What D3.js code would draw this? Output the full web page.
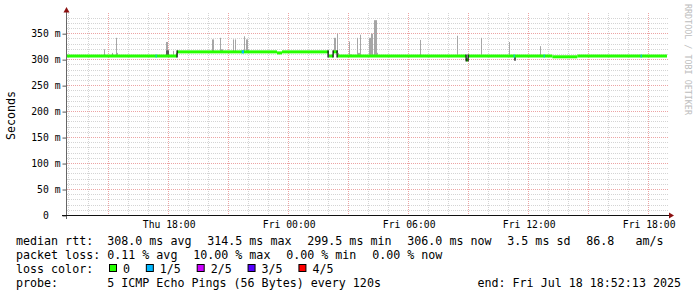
<!DOCTYPE html>
<html>
<head>
<meta charset="utf-8">
<script src="https://cdn.jsdelivr.net/npm/d3@7"></script>
<style>
  body { margin: 0; background: #fff; }
  text { font-family: "DejaVu Sans Mono", monospace; white-space: pre; }
  .leg { font-size: 11.66px; fill: #000; }
  .tick text { font-size: 9.72px; fill: #000; }
</style>
</head>
<body>
<svg id="chart" width="697" height="297"></svg>
<script>
// ---- data ----
const startTime = "17 12:55"
const endTime = "18 18:55"

// median rtt in ms, each value holds until the next time
const medianTimes = ["17 12:55", "17 18:25", "17 23:25", "17 23:40", "18 02:00", "18 02:13",
  "18 02:26", "18 08:52", "18 08:58", "18 13:11", "18 14:26"]
const medianValues = [307, 315, 313, 315, 307, 315, 307, 299.5, 307, 305.5, 307]

// smoke: spread of the 5 pings (lo..mid dark, mid..hi light)
const smokeTimes = ["17 14:47", "17 15:11", "17 15:23", "17 15:25", "17 17:52", "17 17:55", "17 18:14",
  "17 18:22", "17 20:10", "17 20:13", "17 20:35", "17 20:38", "17 20:41", "17 21:16", "17 21:19",
  "17 21:46", "17 21:52", "17 21:55", "17 21:58", "18 02:16", "18 02:19", "18 02:25", "18 02:28",
  "18 03:01", "18 03:04", "18 03:07", "18 03:25", "18 03:28", "18 03:31", "18 03:35", "18 04:01",
  "18 04:04", "18 04:07", "18 04:10", "18 04:16", "18 04:19", "18 04:22", "18 04:25", "18 04:28",
  "18 06:35", "18 08:26", "18 09:38", "18 11:02", "18 11:16", "18 12:35", "18 12:38"]
const smokeLo = [307, 307, 307, 307, 307, 307, 307, 307, 315, 315, 315, 315, 315, 315, 315,
  315, 315, 315, 315, 315, 315, 315, 307, 307, 307, 307, 307, 307, 307, 307, 307,
  307, 307, 307, 307, 307, 307, 307, 307, 307, 307, 307, 307, 298, 307, 307]
const smokeMid = [307, 307, 307, 307, 318, 318, 307, 307, 315, 315, 315, 315, 315, 315, 315,
  315, 315, 315, 315, 315, 315, 315, 307, 307, 307, 307, 307, 307, 307, 307, 307,
  307, 307, 307, 307, 307, 307, 307, 307, 307, 307, 307, 307, 307, 307, 307]
const smokeHi = [320, 313, 342, 313, 334, 334, 317, 313, 339, 339, 342, 320, 320, 339, 339,
  345, 339, 339, 320, 342, 342, 350, 313, 335, 310, 310, 342, 313, 313, 348, 342,
  342, 350, 350, 376, 376, 376, 313, 313, 338, 346, 342, 334, 307, 326, 309]

// packet loss events (pings lost out of 5)
const lossTimes = ["17 17:21", "17 21:39", "18 11:15", "18 12:45", "18 17:36"]
const lossMinutes = [3, 7, 3, 3, 3]
const lossCounts = [1, 1, 1, 1, 1]

const lossLabels = ["0", "1/5", "2/5", "3/5", "4/5"]
const lossColors = ["#26ff00", "#00b8ff", "#cc00ff", "#5500ff", "#ff0000"]

const yTicks = [0, 50, 100, 150, 200, 250, 300, 350]

const line1Items = ["median rtt:  308.0 ms avg", "314.5 ms max", "299.5 ms min", "306.0 ms now", "3.5 ms sd", "86.8   am/s"]
const line2Items = ["packet loss: 0.11 % avg", "10.00 % max", "0.00 % min", "0.00 % now"]
const probeText = "probe:       5 ICMP Echo Pings (56 Bytes) every 120s"
const endText = "end: Fri Jul 18 18:52:13 2025"

// ---- helpers ----
function t(s) {
  return new Date(2025, 6, +s.slice(0, 2), +s.slice(3, 5), +s.slice(6, 8))
}
const addMin = (d, m) => new Date(d.getTime() + m * 60000)

var margin = {left: 67, top: 15.5, right: 667, bottom: 215.5}
var svg = d3.select("#chart")

var x = d3.scaleTime()
  .domain([t(startTime), t(endTime)])
  .range([margin.left, margin.right])

var y = d3.scaleLinear()
  .domain([0, 385])
  .range([margin.bottom, margin.top])

// ---- grid ----
var grid = svg.append("g")
const crisp = v => Math.floor(v) + 0.5

d3.range(0, 385, 10).forEach(function(v) {
  if (v === 0) return
  grid.append("line")
    .attr("x1", margin.left).attr("x2", margin.right + 2)
    .attr("y1", crisp(y(v))).attr("y2", crisp(y(v)))
    .attr("stroke", v % 50 === 0 ? "#eca4a4" : "#d4d4d4")
    .attr("stroke-dasharray", "1,1")
})

x.ticks(d3.timeHour.every(1)).forEach(function(d) {
  grid.append("line")
    .attr("x1", crisp(x(d))).attr("x2", crisp(x(d)))
    .attr("y1", 13).attr("y2", margin.bottom)
    .attr("stroke", d.getHours() % 3 === 0 ? "#eca4a4" : "#d4d4d4")
    .attr("stroke-dasharray", "1,1")
})

// ---- smoke ----
var smoke = svg.append("g")
smokeTimes.forEach(function(s, i) {
  var x0 = Math.floor(x(t(s)))
  smoke.append("rect")
    .attr("x", x0).attr("width", 1)
    .attr("y", y(smokeHi[i])).attr("height", Math.max(0, y(smokeMid[i]) - y(smokeHi[i])))
    .attr("fill", "#a6a6a6")
  if (smokeMid[i] > smokeLo[i]) {
    smoke.append("rect")
      .attr("x", x0).attr("width", 2)
      .attr("y", y(smokeMid[i])).attr("height", y(smokeLo[i]) - y(smokeMid[i]))
      .attr("fill", "#5a5a5a")
  }
})

// ---- median line ----
var med = svg.append("g")
var medianDates = medianTimes.map(t)
medianDates.forEach(function(d, i) {
  var d1 = i < medianDates.length - 1 ? medianDates[i + 1] : t(endTime)
  med.append("rect")
    .attr("x", x(d)).attr("width", x(d1) - x(d))
    .attr("y", y(medianValues[i]) - 1.5).attr("height", 3)
    .attr("fill", lossColors[0])
})
medianDates.forEach(function(d, i) {
  if (i === 0) return
  var a = medianValues[i - 1], b = medianValues[i]
  if (Math.abs(a - b) < 4) return
  med.append("rect")
    .attr("x", Math.floor(x(d)) - 0.5).attr("width", 1.2)
    .attr("y", y(Math.max(a, b)) - 1.5)
    .attr("height", Math.abs(y(a) - y(b)) + 3)
    .attr("fill", "#000")
})

function medianAt(d) {
  var i = d3.bisector(v => v).right(medianDates, d) - 1
  return medianValues[Math.max(0, i)]
}
lossTimes.forEach(function(s, i) {
  var d = t(s)
  med.append("rect")
    .attr("x", x(d)).attr("width", x(addMin(d, lossMinutes[i])) - x(d))
    .attr("y", y(medianAt(d)) - 1.5).attr("height", 3)
    .attr("fill", lossColors[lossCounts[i]])
})

// ---- axes ----
var yAxis = d3.axisLeft(y)
  .tickValues(yTicks)
  .tickSize(4)
  .tickPadding(2)
  .tickFormat(d => d === 0 ? "  0  " : d + " m")
svg.append("g")
  .attr("transform", "translate(66.5,0)")
  .call(yAxis)
  .call(g => g.select(".domain").remove())
  .call(g => g.selectAll(".tick line").attr("stroke", "#555"))

var xAxis = d3.axisBottom(x)
  .ticks(d3.timeHour.every(6))
  .tickSize(0)
  .tickFormat(d3.timeFormat("%a %H:%M"))
svg.append("g")
  .attr("transform", "translate(0," + margin.bottom + ")")
  .call(xAxis)
  .call(g => g.select(".domain").remove())
  .call(g => g.selectAll(".tick text").attr("y", 12).attr("dy", 0))

// axis lines + arrows
svg.append("line")
  .attr("x1", 66.5).attr("x2", 66.5).attr("y1", 12).attr("y2", 219)
  .attr("stroke", "#666")
svg.append("line")
  .attr("x1", 62).attr("x2", 670).attr("y1", margin.bottom).attr("y2", margin.bottom)
  .attr("stroke", "#111")
svg.append("path")
  .attr("d", "M669,212.5L674,215.5L669,218.5Z")
  .attr("fill", "#8b1010")
svg.append("path")
  .attr("d", "M63.5,12.5L66.5,7L69.5,12.5Z")
  .attr("fill", "#8b1010")

// ---- titles ----
svg.append("text")
  .attr("transform", "translate(15,115.5) rotate(-90)")
  .attr("text-anchor", "middle")
  .attr("class", "leg")
  .text("Seconds")

svg.append("text")
  .attr("transform", "translate(685,4) rotate(90)")
  .style("font-size", "8.4px")
  .attr("fill", "#bdbdbd")
  .text("RRDTOOL / TOBI OETIKER")

// ---- legend ----
var legendGap = 15.8
function legendLine(items, ly) {
  var lx = 16
  items.forEach(function(s) {
    var tx = svg.append("text").attr("class", "leg").attr("x", lx).attr("y", ly).text(s)
    lx += tx.node().getComputedTextLength() + legendGap
  })
}
legendLine(line1Items, 244.5)
legendLine(line2Items, 258.5)

var lx = 16
var lc = svg.append("text").attr("class", "leg").attr("x", lx).attr("y", 272.5).text("loss color:")
lx += lc.node().getComputedTextLength() + legendGap
lossLabels.forEach(function(s, i) {
  svg.append("rect")
    .attr("x", lx + 0.5).attr("y", 264.5).attr("width", 7).attr("height", 7)
    .attr("fill", lossColors[i]).attr("stroke", "#000")
  var tx = svg.append("text").attr("class", "leg").attr("x", lx + 14).attr("y", 272.5).text(s)
  lx += 14 + tx.node().getComputedTextLength() + legendGap
})

svg.append("text").attr("class", "leg").attr("x", 16).attr("y", 286.5).text(probeText)
svg.append("text").attr("class", "leg").attr("x", 681).attr("y", 286.5)
  .attr("text-anchor", "end").text(endText)
</script>
</body>
</html>
